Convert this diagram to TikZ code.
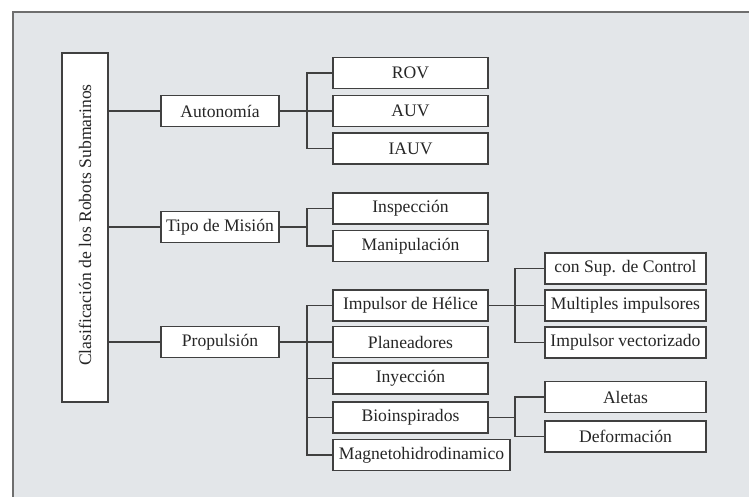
\documentclass[tikz,border=0pt]{standalone}
\usepackage{fontspec}
\setmainfont{Liberation Serif}
\begin{document}
\begin{tikzpicture}[x=1pt,y=-1pt,
  every node/.style={font=\fontsize{17.6}{20}\selectfont, text=black!85},
  box/.style={draw=black!75, line width=1.3pt, fill=white, inner sep=0pt, minimum height=31pt},
  catbox/.style={box, minimum width=118pt},
  leaf/.style={box, minimum width=155pt},
  leafr/.style={box, minimum width=161pt},
  conn/.style={draw=black!75, line width=1.2pt}]
\useasboundingbox (0,0) rectangle (749,497);
\fill[white] (0,0) rectangle (749,497);
\fill[fill={rgb,255:red,227;green,230;blue,233}] (13,12) rectangle (749,497);
\draw[line width=1.6pt, draw={rgb,255:red,110;green,110;blue,110}] (13,497) -- (13,12) -- (749,12);

% root
\node[box, minimum width=46pt, minimum height=349pt] (root) at (85,227.5) {};
\node[rotate=90] (roottext) at (85,225) {Clasificación de los Robots Submarinos};

% categories
\node[catbox] (aut) at (220,111) {Autonomía};
\node[catbox] (tipo) at (220,227) {Tipo de Misión};
\node[catbox] (prop) at (220,342) {Propulsión};

% bracket coordinates
\coordinate (b1) at (307,0);
\coordinate (b2) at (515,0);

% autonomy leaves
\node[leaf] (rov) at (410.5,73) {ROV};
\node[leaf] (auv) at (410.5,111) {AUV};
\node[leaf] (iauv) at (410.5,148.5) {IAUV};

% mission leaves
\node[leaf] (insp) at (410.5,208.5) {Inspección};
\node[leaf] (mani) at (410.5,246) {Manipulación};

% propulsion leaves
\node[leaf] (hel) at (410.5,305.5) {Impulsor de Hélice};
\node[leaf] (plan) at (410.5,342) {Planeadores};
\node[leaf] (iny) at (410.5,378.5) {Inyección};
\node[leaf] (bio) at (410.5,417.5) {Bioinspirados};
\node[box, minimum width=177pt] (mag) at (421.5,455) {Magnetohidrodinamico};

% helice leaves
\node[leafr] (sup) at (625.5,268.5) {con Sup. de Control};
\node[leafr] (mult) at (625.5,305.5) {Multiples impulsores};
\node[leafr] (vect) at (625.5,342.5) {Impulsor vectorizado};

% bio leaves
\node[leafr] (ale) at (625.5,397) {Aletas};
\node[leafr] (def) at (625.5,436.5) {Deformación};

% connectors root -> categories
\draw[conn] (aut.west -| root.east) -- (aut.west);
\draw[conn] (tipo.west -| root.east) -- (tipo.west);
\draw[conn] (prop.west -| root.east) -- (prop.west);

% autonomy
\draw[conn] (aut.east) -- (auv.west);
\draw[conn] (rov.west) -- (rov.west -| b1) -- (iauv.west -| b1) -- (iauv.west);

% mission
\draw[conn] (tipo.east) -- (tipo.east -| b1);
\draw[conn] (insp.west) -- (insp.west -| b1) -- (mani.west -| b1) -- (mani.west);

% propulsion
\draw[conn] (prop.east) -- (plan.west);
\draw[conn] (hel.west) -- (hel.west -| b1) -- (mag.west -| b1) -- (mag.west);
\draw[conn] (iny.west -| b1) -- (iny.west);
\draw[conn] (bio.west -| b1) -- (bio.west);

% helice
\draw[conn] (hel.east) -- (mult.west);
\draw[conn] (sup.west) -- (sup.west -| b2) -- (vect.west -| b2) -- (vect.west);

% bio
\draw[conn] (bio.east) -- (bio.east -| b2);
\draw[conn] (ale.west) -- (ale.west -| b2) -- (def.west -| b2) -- (def.west);
\end{tikzpicture}
\end{document}
